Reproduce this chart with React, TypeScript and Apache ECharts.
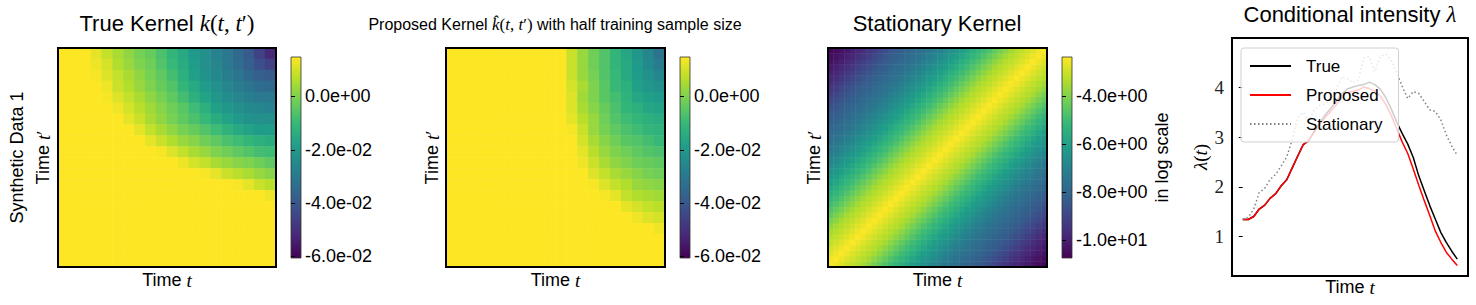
import React, { useEffect, useRef } from 'react';
import * as echarts from 'echarts';

// ---------- data ----------
const VIRIDIS = ['#440154', '#482878', '#3e4989', '#31688e', '#26828e', '#1f9e89', '#35b779', '#6ece58', '#b5de2b', '#fde725'];

// True kernel k(t,t'), rows from top (t' large) to bottom (t' small), columns t small -> large
const TRUE_KERNEL: number[][] = [
  [0.0148, 0.0148, 0.0148, 0.012, 0.008, 0.005, 0.002, -0.001, -0.003, -0.007, -0.011, -0.015, -0.020, -0.023, -0.027, -0.030, -0.035, -0.039, -0.046, -0.052],
  [0.0148, 0.0148, 0.0148, 0.013, 0.010, 0.006, 0.003, 0.000, -0.002, -0.006, -0.010, -0.014, -0.019, -0.023, -0.026, -0.030, -0.034, -0.038, -0.042, -0.046],
  [0.0148, 0.0148, 0.0148, 0.014, 0.011, 0.008, 0.005, 0.002, -0.001, -0.004, -0.008, -0.013, -0.018, -0.022, -0.025, -0.028, -0.031, -0.035, -0.038, -0.039],
  [0.0148, 0.0148, 0.0148, 0.0148, 0.013, 0.009, 0.006, 0.003, 0.000, -0.003, -0.006, -0.011, -0.015, -0.020, -0.023, -0.026, -0.029, -0.031, -0.034, -0.035],
  [0.0148, 0.0148, 0.0148, 0.0148, 0.014, 0.011, 0.008, 0.005, 0.002, -0.001, -0.004, -0.008, -0.013, -0.017, -0.021, -0.024, -0.026, -0.028, -0.030, -0.030],
  [0.0148, 0.0148, 0.0148, 0.0148, 0.0148, 0.013, 0.010, 0.007, 0.004, 0.001, -0.002, -0.005, -0.009, -0.013, -0.018, -0.021, -0.023, -0.025, -0.026, -0.027],
  [0.0148, 0.0148, 0.0148, 0.0148, 0.0148, 0.0148, 0.012, 0.009, 0.005, 0.002, -0.001, -0.004, -0.007, -0.010, -0.014, -0.017, -0.020, -0.022, -0.023, -0.023],
  [0.0148, 0.0148, 0.0148, 0.0148, 0.0148, 0.0148, 0.0148, 0.012, 0.008, 0.005, 0.002, -0.001, -0.003, -0.006, -0.009, -0.012, -0.015, -0.017, -0.019, -0.019],
  [0.0148, 0.0148, 0.0148, 0.0148, 0.0148, 0.0148, 0.0148, 0.0148, 0.012, 0.009, 0.006, 0.003, 0.001, -0.002, -0.004, -0.007, -0.009, -0.011, -0.013, -0.014],
  [0.0148, 0.0148, 0.0148, 0.0148, 0.0148, 0.0148, 0.0148, 0.0148, 0.0148, 0.014, 0.011, 0.008, 0.005, 0.003, 0.000, -0.002, -0.004, -0.006, -0.008, -0.009],
  [0.0148, 0.0148, 0.0148, 0.0148, 0.0148, 0.0148, 0.0148, 0.0148, 0.0148, 0.0148, 0.0148, 0.013, 0.010, 0.008, 0.005, 0.003, 0.001, 0.000, -0.002, -0.004],
  [0.0148, 0.0148, 0.0148, 0.0148, 0.0148, 0.0148, 0.0148, 0.0148, 0.0148, 0.0148, 0.0148, 0.0148, 0.0148, 0.014, 0.012, 0.009, 0.007, 0.005, 0.003, 0.001],
  [0.0148, 0.0148, 0.0148, 0.0148, 0.0148, 0.0148, 0.0148, 0.0148, 0.0148, 0.0148, 0.0148, 0.0148, 0.0148, 0.0148, 0.0148, 0.0148, 0.014, 0.012, 0.009, 0.007],
  [0.0148, 0.0148, 0.0148, 0.0148, 0.0148, 0.0148, 0.0148, 0.0148, 0.0148, 0.0148, 0.0148, 0.0148, 0.0148, 0.0148, 0.0148, 0.0148, 0.0148, 0.0148, 0.0148, 0.013],
  [0.0148, 0.0148, 0.0148, 0.0148, 0.0148, 0.0148, 0.0148, 0.0148, 0.0148, 0.0148, 0.0148, 0.0148, 0.0148, 0.0148, 0.0148, 0.0148, 0.0148, 0.0148, 0.0148, 0.0148],
  [0.0148, 0.0148, 0.0148, 0.0148, 0.0148, 0.0148, 0.0148, 0.0148, 0.0148, 0.0148, 0.0148, 0.0148, 0.0148, 0.0148, 0.0148, 0.0148, 0.0148, 0.0148, 0.0148, 0.0148],
  [0.0148, 0.0148, 0.0148, 0.0148, 0.0148, 0.0148, 0.0148, 0.0148, 0.0148, 0.0148, 0.0148, 0.0148, 0.0148, 0.0148, 0.0148, 0.0148, 0.0148, 0.0148, 0.0148, 0.0148],
  [0.0148, 0.0148, 0.0148, 0.0148, 0.0148, 0.0148, 0.0148, 0.0148, 0.0148, 0.0148, 0.0148, 0.0148, 0.0148, 0.0148, 0.0148, 0.0148, 0.0148, 0.0148, 0.0148, 0.0148],
  [0.0148, 0.0148, 0.0148, 0.0148, 0.0148, 0.0148, 0.0148, 0.0148, 0.0148, 0.0148, 0.0148, 0.0148, 0.0148, 0.0148, 0.0148, 0.0148, 0.0148, 0.0148, 0.0148, 0.0148],
  [0.0148, 0.0148, 0.0148, 0.0148, 0.0148, 0.0148, 0.0148, 0.0148, 0.0148, 0.0148, 0.0148, 0.0148, 0.0148, 0.0148, 0.0148, 0.0148, 0.0148, 0.0148, 0.0148, 0.0148],
];

// Proposed kernel with half training sample size, same layout
const PROPOSED_KERNEL: number[][] = [
  [0.0148, 0.0148, 0.0148, 0.0148, 0.0148, 0.0148, 0.0148, 0.0148, 0.0148, 0.0148, 0.0148, 0.009, 0.003, -0.002, -0.006, -0.011, -0.016, -0.021, -0.026, -0.032],
  [0.0148, 0.0148, 0.0148, 0.0148, 0.0148, 0.0148, 0.0148, 0.0148, 0.0148, 0.0148, 0.0148, 0.009, 0.003, -0.002, -0.006, -0.011, -0.015, -0.020, -0.025, -0.029],
  [0.0148, 0.0148, 0.0148, 0.0148, 0.0148, 0.0148, 0.0148, 0.0148, 0.0148, 0.0148, 0.0148, 0.009, 0.003, -0.001, -0.006, -0.010, -0.015, -0.019, -0.023, -0.026],
  [0.0148, 0.0148, 0.0148, 0.0148, 0.0148, 0.0148, 0.0148, 0.0148, 0.0148, 0.0148, 0.0148, 0.010, 0.005, 0.000, -0.005, -0.010, -0.013, -0.018, -0.021, -0.023],
  [0.0148, 0.0148, 0.0148, 0.0148, 0.0148, 0.0148, 0.0148, 0.0148, 0.0148, 0.0148, 0.0148, 0.011, 0.004, 0.000, -0.005, -0.008, -0.012, -0.016, -0.018, -0.020],
  [0.0148, 0.0148, 0.0148, 0.0148, 0.0148, 0.0148, 0.0148, 0.0148, 0.0148, 0.0148, 0.0148, 0.011, 0.005, 0.001, -0.003, -0.007, -0.011, -0.013, -0.016, -0.017],
  [0.0148, 0.0148, 0.0148, 0.0148, 0.0148, 0.0148, 0.0148, 0.0148, 0.0148, 0.0148, 0.0148, 0.012, 0.007, 0.003, -0.002, -0.006, -0.009, -0.011, -0.013, -0.014],
  [0.0148, 0.0148, 0.0148, 0.0148, 0.0148, 0.0148, 0.0148, 0.0148, 0.0148, 0.0148, 0.0148, 0.014, 0.009, 0.003, -0.001, -0.004, -0.007, -0.009, -0.011, -0.012],
  [0.0148, 0.0148, 0.0148, 0.0148, 0.0148, 0.0148, 0.0148, 0.0148, 0.0148, 0.0148, 0.0148, 0.0148, 0.010, 0.005, 0.001, -0.002, -0.005, -0.006, -0.008, -0.010],
  [0.0148, 0.0148, 0.0148, 0.0148, 0.0148, 0.0148, 0.0148, 0.0148, 0.0148, 0.0148, 0.0148, 0.0148, 0.012, 0.007, 0.003, 0.000, -0.002, -0.004, -0.006, -0.007],
  [0.0148, 0.0148, 0.0148, 0.0148, 0.0148, 0.0148, 0.0148, 0.0148, 0.0148, 0.0148, 0.0148, 0.0148, 0.013, 0.009, 0.005, 0.002, 0.000, -0.002, -0.003, -0.004],
  [0.0148, 0.0148, 0.0148, 0.0148, 0.0148, 0.0148, 0.0148, 0.0148, 0.0148, 0.0148, 0.0148, 0.0148, 0.0148, 0.011, 0.008, 0.005, 0.003, 0.001, -0.001, -0.002],
  [0.0148, 0.0148, 0.0148, 0.0148, 0.0148, 0.0148, 0.0148, 0.0148, 0.0148, 0.0148, 0.0148, 0.0148, 0.0148, 0.014, 0.011, 0.008, 0.006, 0.003, 0.002, 0.001],
  [0.0148, 0.0148, 0.0148, 0.0148, 0.0148, 0.0148, 0.0148, 0.0148, 0.0148, 0.0148, 0.0148, 0.0148, 0.0148, 0.0148, 0.014, 0.012, 0.008, 0.006, 0.005, 0.004],
  [0.0148, 0.0148, 0.0148, 0.0148, 0.0148, 0.0148, 0.0148, 0.0148, 0.0148, 0.0148, 0.0148, 0.0148, 0.0148, 0.0148, 0.0148, 0.0148, 0.012, 0.010, 0.008, 0.007],
  [0.0148, 0.0148, 0.0148, 0.0148, 0.0148, 0.0148, 0.0148, 0.0148, 0.0148, 0.0148, 0.0148, 0.0148, 0.0148, 0.0148, 0.0148, 0.0148, 0.0148, 0.013, 0.011, 0.010],
  [0.0148, 0.0148, 0.0148, 0.0148, 0.0148, 0.0148, 0.0148, 0.0148, 0.0148, 0.0148, 0.0148, 0.0148, 0.0148, 0.0148, 0.0148, 0.0148, 0.0148, 0.0148, 0.0148, 0.013],
  [0.0148, 0.0148, 0.0148, 0.0148, 0.0148, 0.0148, 0.0148, 0.0148, 0.0148, 0.0148, 0.0148, 0.0148, 0.0148, 0.0148, 0.0148, 0.0148, 0.0148, 0.0148, 0.0148, 0.0148],
  [0.0148, 0.0148, 0.0148, 0.0148, 0.0148, 0.0148, 0.0148, 0.0148, 0.0148, 0.0148, 0.0148, 0.0148, 0.0148, 0.0148, 0.0148, 0.0148, 0.0148, 0.0148, 0.0148, 0.0148],
  [0.0148, 0.0148, 0.0148, 0.0148, 0.0148, 0.0148, 0.0148, 0.0148, 0.0148, 0.0148, 0.0148, 0.0148, 0.0148, 0.0148, 0.0148, 0.0148, 0.0148, 0.0148, 0.0148, 0.0148],
];

// Stationary kernel (log scale) as a function of lag |t - t'| (40 steps)
const STATIONARY_LAG = [
  -2.4, -2.55, -2.75, -2.95, -3.15, -3.3, -3.5, -3.8, -4.1, -4.4,
  -4.7, -5.0, -5.25, -5.5, -5.8, -6.05, -6.3, -6.5, -6.75, -6.95,
  -7.2, -7.4, -7.6, -7.75, -7.9, -8.05, -8.2, -8.35, -8.5, -8.75,
  -8.95, -9.2, -9.4, -9.65, -9.85, -10.0, -10.2, -10.35, -10.5, -10.65,
];

// Conditional intensity curves
const TRUE_INTENSITY = [1.34, 1.34, 1.40, 1.55, 1.63, 1.77, 1.86, 2.02, 2.14, 2.38, 2.62, 2.85, 2.93, 3.12, 3.28, 3.45, 3.58, 3.72, 3.87, 3.97, 4.01, 4.04, 4.06, 4.11, 4.06, 3.97, 3.80, 3.57, 3.30, 3.07, 2.86, 2.59, 2.22, 1.92, 1.62, 1.35, 1.08, 0.88, 0.70, 0.54];
const PROPOSED_INTENSITY = [1.34, 1.34, 1.40, 1.55, 1.63, 1.77, 1.86, 2.02, 2.14, 2.38, 2.62, 2.85, 2.93, 3.10, 3.25, 3.40, 3.52, 3.65, 3.80, 3.90, 3.92, 3.95, 4.01, 3.98, 3.93, 3.83, 3.66, 3.44, 3.17, 2.90, 2.67, 2.36, 2.03, 1.72, 1.42, 1.11, 0.88, 0.68, 0.54, 0.41];
const STATIONARY_INTENSITY = [1.34, 1.38, 1.55, 1.88, 1.97, 2.15, 2.25, 2.42, 2.60, 2.95, 3.40, 3.50, 3.33, 3.55, 3.64, 3.67, 3.78, 3.95, 4.22, 4.18, 4.10, 4.15, 4.60, 4.62, 4.32, 4.62, 4.68, 4.55, 4.30, 4.02, 3.78, 3.92, 3.88, 3.72, 3.55, 3.52, 3.35, 3.05, 2.82, 2.63];
const SERIES_NAMES = ['True', 'Proposed', 'Stationary'];

const KERNEL_RANGE = [-0.0606, 0.0148];
const KERNEL_TICKS = [-0.06, -0.04, -0.02, 0];
const LOG_RANGE = [-10.76, -2.36];
const LOG_TICKS = [-10, -8, -6, -4];
const INTENSITY_RANGE = [0.2, 5.0];
const INTENSITY_TICKS = [1, 2, 3, 4];

// ---------- helpers ----------
const SANS = 'Liberation Sans';
const SERIF = 'Liberation Serif';

function matrixCells(rows: number[][]) {
  const n = rows.length;
  const out: number[][] = [];
  rows.forEach((row, ri) => row.forEach((v, ci) => out.push([ci, n - 1 - ri, v])));
  return out;
}
function lagCells(lag: number[]) {
  const n = lag.length;
  const out: number[][] = [];
  for (let i = 0; i < n; i++) for (let j = 0; j < n; j++) out.push([i, j, lag[Math.abs(i - j)]]);
  return out;
}
const indexList = (n: number) => Array.from({ length: n }, (_, i) => String(i));
const expFmt = (v: number) => {
  const s = Number(v).toExponential(1);
  const [m, e] = s.split('e');
  const sign = e[0] === '-' ? '-' : '+';
  const digits = e.replace(/[+-]/, '').padStart(2, '0');
  return `${m}e${sign}${digits}`;
};
const viridisGradient = () =>
  new echarts.graphic.LinearGradient(0, 1, 0, 0, VIRIDIS.map((c, i) => ({ offset: i / (VIRIDIS.length - 1), color: c })));

const richMath = (size: number, lineHeight?: number) => {
  const lh = lineHeight ? { lineHeight } : {};
  return {
    a: { fontFamily: SANS, fontSize: size, fontWeight: 'normal', color: '#000', ...lh },
    m: { fontFamily: SERIF, fontStyle: 'italic', fontWeight: 'normal', fontSize: size + 1, color: '#000', ...lh },
    p: { fontFamily: SERIF, fontWeight: 'normal', fontSize: size + 1, color: '#000', ...lh },
  };
};

function buildOption() {
  const heatGrids = [
    { left: 58, top: 48, width: 218, height: 219 },
    { left: 446, top: 48, width: 219, height: 219 },
    { left: 828, top: 48, width: 219, height: 219 },
  ];
  const barGrids = [
    { left: 291, top: 57, width: 10, height: 201 },
    { left: 680, top: 57, width: 10, height: 201 },
    { left: 1062, top: 57, width: 10, height: 201 },
  ];
  const grid: any[] = [];
  const xAxis: any[] = [];
  const yAxis: any[] = [];
  const nameStyle = { fontFamily: SANS, fontSize: 18, fontWeight: 'normal', color: '#000', lineHeight: 20, rich: richMath(18, 20) };
  const sizes = [TRUE_KERNEL.length, PROPOSED_KERNEL.length, STATIONARY_LAG.length];
  const yNames = ['{a|Synthetic Data 1}\n{a|Time }{m|t}{p|′}', '{a|Time }{m|t}{p|′}', '{a|Time }{m|t}{p|′}'];
  const ranges = [KERNEL_RANGE, KERNEL_RANGE, LOG_RANGE];
  const ticks = [KERNEL_TICKS, KERNEL_TICKS, LOG_TICKS];

  for (let k = 0; k < 3; k++) {
    const gi = grid.length;
    grid.push({ ...heatGrids[k], show: true, borderColor: '#000', borderWidth: 2, backgroundColor: 'transparent', z: 3 });
    xAxis.push({
      type: 'category', gridIndex: gi, data: indexList(sizes[k]),
      axisLine: { show: false }, axisTick: { show: false }, axisLabel: { show: false }, splitLine: { show: false },
      name: '{a|Time }{m|t}', nameLocation: 'middle', nameGap: 3, nameTextStyle: nameStyle,
    });
    const lh = k === 0 ? 26 : 20;
    yAxis.push({
      type: 'category', gridIndex: gi, data: indexList(sizes[k]),
      axisLine: { show: false }, axisTick: { show: false }, axisLabel: { show: false }, splitLine: { show: false },
      name: yNames[k], nameLocation: 'middle', nameRotate: 90, nameGap: k === 0 ? 2 : 4,
      nameTextStyle: { ...nameStyle, lineHeight: lh, rich: richMath(18, lh) },
    });
    const bi = grid.length;
    grid.push({ ...barGrids[k], show: true, borderColor: '#333', borderWidth: 0.8, backgroundColor: viridisGradient() });
    xAxis.push({ type: 'value', gridIndex: bi, min: 0, max: 1, show: false });
    yAxis.push({
      type: 'value', gridIndex: bi, position: 'right', min: ranges[k][0], max: ranges[k][1],
      axisLine: { show: false }, splitLine: { show: false },
      axisTick: { show: true, customValues: ticks[k], length: 4, lineStyle: { color: '#000', width: 1 } },
      axisLabel: { customValues: ticks[k], formatter: expFmt, margin: 4, fontFamily: SANS, fontSize: 18, color: '#000' },
      ...(k === 2 ? { name: 'in log scale', nameLocation: 'middle', nameRotate: 90, nameGap: 80, nameTextStyle: { fontFamily: SANS, fontSize: 18, color: '#000', lineHeight: 20 } } : {}),
    });
  }
  // line chart grid (index 6)
  grid.push({ left: 1232, top: 38, width: 236, height: 238, show: true, borderColor: '#000', borderWidth: 2, backgroundColor: 'transparent', z: 3 });
  const nPts = TRUE_INTENSITY.length - 1;
  xAxis.push({
    type: 'value', gridIndex: 6, min: -0.05 * nPts, max: nPts * 1.05,
    axisLine: { show: false }, axisTick: { show: false }, axisLabel: { show: false }, splitLine: { show: false },
    name: '{a|Time }{m|t}', nameLocation: 'middle', nameGap: 1, nameTextStyle: nameStyle,
  });
  yAxis.push({
    type: 'value', gridIndex: 6, min: INTENSITY_RANGE[0], max: INTENSITY_RANGE[1],
    axisLine: { show: false }, splitLine: { show: false },
    axisTick: { show: true, customValues: INTENSITY_TICKS, length: 4, lineStyle: { color: '#000', width: 1 } },
    axisLabel: { customValues: INTENSITY_TICKS, margin: 8, fontFamily: SERIF, fontSize: 19, color: '#222' },
    name: '{m|λ}{p|(}{m|t}{p|)}', nameLocation: 'middle', nameRotate: 90, nameGap: 21, nameTextStyle: nameStyle,
  });

  const heatSeries = [matrixCells(TRUE_KERNEL), matrixCells(PROPOSED_KERNEL), lagCells(STATIONARY_LAG)].map((data, k) => ({
    type: 'heatmap', xAxisIndex: 2 * k, yAxisIndex: 2 * k, data, silent: true,
    itemStyle: { borderWidth: 0 }, emphasis: { disabled: true }, progressive: 0,
  }));
  const lineData = [TRUE_INTENSITY, PROPOSED_INTENSITY, STATIONARY_INTENSITY];
  const lineStyles = [
    { color: '#000000', width: 1.5, type: 'solid' },
    { color: '#ff0000', width: 1.5, type: 'solid' },
    { color: '#808080', width: 1.5, type: [1.5, 2.5] },
  ];
  const lineSeries = lineData.map((vals, k) => ({
    type: 'line', name: SERIES_NAMES[k], xAxisIndex: 6, yAxisIndex: 6,
    data: vals.map((v, i) => [i, v]), symbol: 'none', silent: true,
    lineStyle: lineStyles[k], itemStyle: { color: lineStyles[k].color }, emphasis: { disabled: true },
  }));

  const visualMap = [
    { type: 'continuous', show: false, seriesIndex: 0, dimension: 2, min: KERNEL_RANGE[0], max: KERNEL_RANGE[1], inRange: { color: VIRIDIS } },
    { type: 'continuous', show: false, seriesIndex: 1, dimension: 2, min: KERNEL_RANGE[0], max: KERNEL_RANGE[1], inRange: { color: VIRIDIS } },
    { type: 'continuous', show: false, seriesIndex: 2, dimension: 2, min: LOG_RANGE[0], max: LOG_RANGE[1], inRange: { color: VIRIDIS } },
  ];

  const titleStyle = (size: number) => ({ fontWeight: 'normal', fontFamily: SANS, fontSize: size, color: '#000', rich: richMath(size) });
  const title = [
    { text: '{a|True Kernel }{m|k}{p|(}{m|t}{p|, }{m|t}{p|′)}', left: 167, top: 12, textAlign: 'center', padding: 0, textStyle: titleStyle(22) },
    { text: '{a|Proposed Kernel }{m|k̂}{p|(}{m|t}{p|, }{m|t}{p|′)}{a| with half training sample size}', left: 555, top: 16, textAlign: 'center', padding: 0, textStyle: titleStyle(16) },
    { text: '{a|Stationary Kernel}', left: 937, top: 12, textAlign: 'center', padding: 0, textStyle: titleStyle(22) },
    { text: '{a|Conditional intensity }{m|λ}', left: 1350, top: 3, textAlign: 'center', padding: 0, textStyle: titleStyle(22) },
  ];

  return {
    animation: false,
    backgroundColor: '#ffffff',
    title,
    grid,
    xAxis,
    yAxis,
    visualMap,
    legend: {
      data: SERIES_NAMES, orient: 'vertical', left: 1241, top: 48,
      padding: [9, 16, 9, 8], itemGap: 11, itemWidth: 41, itemHeight: 14,
      backgroundColor: 'rgba(255,255,255,0.8)', borderColor: '#d0d0d0', borderWidth: 1, borderRadius: 3,
      itemStyle: { opacity: 0, borderWidth: 0 },
      textStyle: { fontFamily: SANS, fontSize: 17, color: '#000', padding: [0, 0, 0, 10], lineHeight: 18 },
      selectedMode: false,
    },
    series: [...heatSeries, ...lineSeries],
  };
}

export default function App() {
  const ref = useRef<HTMLDivElement>(null);
  useEffect(() => {
    document.body.style.margin = '0';
    const chart = echarts.init(ref.current as HTMLDivElement, null, { renderer: 'svg' });
    chart.setOption(buildOption() as any);
    return () => chart.dispose();
  }, []);
  return <div ref={ref} style={{ width: 1476, height: 305 }} />;
}
